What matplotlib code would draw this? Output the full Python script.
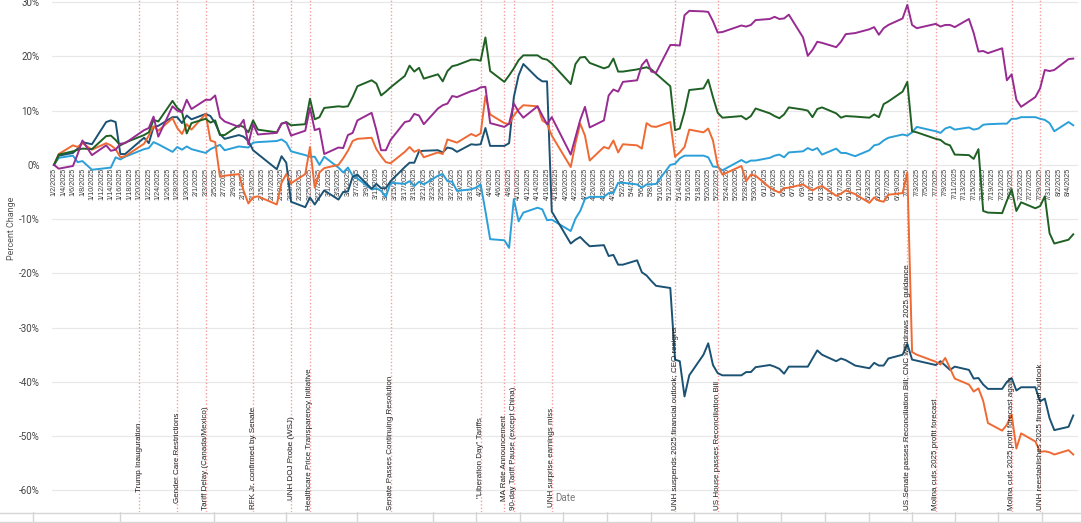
import matplotlib
matplotlib.use('Agg')
import matplotlib.pyplot as plt
import matplotlib.dates as mdates
import pandas as pd

# trading days shown on the chart
holidays = ['2025-01-09', '2025-01-20', '2025-02-17', '2025-04-18',
            '2025-05-26', '2025-06-19', '2025-07-04']
days = pd.bdate_range('2025-01-02', '2025-08-05')
days = days[~days.isin(pd.to_datetime(holidays))]

# percent change since 1/2/2025
unh = [0, 1.7, 2.2, 3.0, 4.2, 3.8, 7.9, 8.2, 7.9, 2.0, 2.0, 5.0, 4.0, 7.0, 7.2, 8.8, 8.8, 7.7, 9.1, 8.4,
       9.4, 9.0, 7.7, 5.7, 4.8, 5.5, 5.2, 4.4, 2.7, 2.0, -0.8, 1.6, 0.4, -6.8, -7.8, -6.0, -7.3, -6.0, -4.7,
       -6.4, -5.0, -4.9, -2.2, -1.8, -4.4, -3.5, -4.3, -4.3, -3.0, -0.4, 0.4, 0.4, 2.5, 2.6, 2.7, 2.3, 3.2, 3.0, 2.4, 3.8,
       3.7, 3.8, 6.8, 3.5, 3.5, 4.0, 12.5, 16.5, 18.6, 16.0, 15.4, 15.4, -8.6, -14.5, -13.8, -13.3, -14.2, -15.0, -14.8, -16.8, -16.6,
       -18.4, -18.4, -17.6, -19.8, -20.4, -21.4, -22.3, -22.7, -35.9, -36.2, -42.7, -38.8, -35.0, -32.9, -36.9, -38.4, -38.8, -38.8, -38.2, -38.2, -37.3,
       -36.9, -37.2, -37.6, -38.5, -37.2, -37.2, -37.2, -35.7, -34.2, -35.0, -36.2, -35.7, -36.0, -37.0, -37.5, -36.5, -37.0, -37.0, -35.7, -35.0,
       -33.0, -35.9, -36.1, -36.9, -36.2, -37.0, -37.8, -37.2, -37.8, -39.4, -39.3, -40.5, -41.3, -41.3, -40.0, -39.3, -41.6, -41.0, -41.0, -43.6, -43.1, -46.7,
       -48.9, -48.3, -46.2]
elv = [0, 1.9, 2.5, 2.8, 3.0, 2.9, 5.3, 5.4, 4.6, 3.6, 4.1, 5.5, 6.0, 8.3, 8.0, 11.8, 10.5, 9.8, 5.8, 7.7,
       8.5, 7.8, 8.2, 5.5, 5.5, 7.3, 7.0, 6.0, 8.2, 6.5, 6.0, 7.6, 7.9, 7.3, 7.5, 12.2, 8.4, 8.8, 10.5,
       10.8, 10.7, 10.8, 12.5, 14.5, 15.6, 15.0, 12.8, 13.5, 14.3, 16.4, 18.3, 17.2, 17.9, 15.9, 16.7, 15.4, 17.3, 18.2, 18.4, 19.4,
       19.4, 19.2, 23.5, 17.3, 15.3, 16.5, 17.8, 19.3, 20.2, 20.2, 19.6, 19.4, 18.7, 14.9, 18.6, 19.8, 19.9, 18.8, 17.8, 18.1, 19.6,
       17.2, 17.2, 17.6, 17.8, 18.0, 17.6, 16.8, 14.5, 6.4, 6.7, 9.8, 13.8, 14.1, 15.7, 12.5, 9.6, 8.7, 9.0, 8.4, 9.0, 10.4,
       9.5, 9.0, 8.6, 9.3, 10.6, 10.2, 10.0, 8.8, 10.3, 10.6, 9.5, 8.7, 9.0, 8.9, 8.7, 9.3, 8.8, 11.2, 11.7, 13.5,
       15.3, 6.2, 6.0, 4.8, 4.6, 3.9, 3.6, 1.9, 1.8, 1.1, 2.9, -8.5, -8.8, -8.9, -6.6, -4.5, -8.5, -6.9, -8.0, -7.6, -5.8, -12.6,
       -14.5, -13.8, -12.8]
cvs = [0, -0.7, -0.2, 2.0, 4.5, 1.8, 3.6, 2.6, 2.8, 3.9, 4.0, 6.4, 6.8, 8.9, 5.2, 10.8, 10.0, 9.7, 12.0, 10.3,
       12.0, 12.0, 12.8, 8.8, 8.0, 7.0, 8.3, 3.8, 7.5, 5.6, 5.9, 7.6, 7.8, 5.4, 6.3, 10.5, 6.4, 6.7, 2.0,
       3.2, 3.1, 5.5, 5.9, 8.2, 9.6, 6.4, 2.7, 2.7, 4.6, 7.9, 8.1, 9.4, 9.1, 7.5, 10.4, 11.0, 11.3, 12.7, 12.5, 13.6,
       13.8, 14.3, 14.4, 7.7, 7.0, 7.6, 11.3, 9.8, 8.7, 10.8, 9.1, 7.5, 8.8, 1.9, 5.1, 8.3, 10.7, 6.9, 8.2, 12.8, 13.9,
       13.5, 15.3, 15.6, 18.4, 19.4, 17.2, 17.0, 22.1, 22.1, 22.0, 27.6, 28.4, 28.3, 28.2, 26.5, 24.4, 24.5, 25.7, 25.5, 25.8, 26.7,
       26.9, 27.3, 26.9, 27.0, 27.7, 23.5, 20.1, 21.2, 22.7, 22.5, 21.7, 22.7, 24.1, 24.3, 25.0, 25.4, 24.0, 25.2, 25.8, 27.0,
       29.5, 25.8, 25.2, 26.0, 25.5, 25.8, 25.8, 25.4, 26.9, 24.3, 20.9, 21.0, 20.6, 21.5, 15.6, 16.7, 12.0, 10.7, 12.5, 14.1, 17.5, 17.3,
       17.5, 19.5, 19.6]
cnc = [0, 2.0, 3.6, 3.3, 4.0, 2.8, 4.0, 3.6, 2.9, 1.4, 1.6, 3.9, 5.4, 7.1, 6.3, 8.6, 6.8, 5.7, 7.5, 6.5,
       9.4, 4.5, 4.2, -2.2, -2.0, -1.7, -4.8, -7.1, -6.0, -5.8, -7.3, -3.3, -1.7, -3.4, -1.7, 3.3, -4.2, -1.4, -0.6,
       0, 1.2, 2.6, 4.4, 4.8, 5.0, 2.9, 1.6, 0.5, 0.3, 2.4, 3.3, 2.4, 2.8, 1.4, 2.3, 2.0, 4.7, 4.4, 4.1, 5.7,
       5.3, 5.8, 12.7, 9.3, 7.7, 7.5, 9.1, 10.2, 11.0, 10.8, 8.2, 7.6, 5.4, -0.4, 4.0, 7.6, 5.4, 0.8, 3.3, 3.0, 4.5,
       2.3, 3.8, 3.6, 3.0, 7.7, 7.1, 7.0, 7.9, 1.5, 2.3, 3.3, 6.5, 6.0, 6.7, 4.5, -0.1, -1.8, -0.2, -3.0, -1.8, -2.0,
       -4.2, -4.7, -5.1, -4.3, -4.2, -3.6, -4.2, -4.7, -4.2, -3.9, -5.7, -5.3, -4.7, -5.4, -7.0, -6.0, -6.6, -6.8, -5.5, -5.2,
       -1.4, -34.5, -35.0, -36.3, -36.8, -35.6, -37.5, -39.4, -40.5, -41.8, -41.2, -43.5, -47.6, -49.0, -47.9, -46.0, -52.3, -49.5, -51.0, -52.9, -52.8, -53.0,
       -53.4, -52.6, -53.4]
ci = [0, 1.3, 1.7, 0.5, 0.7, -0.9, -0.6, -0.5, 1.4, 1.0, 1.5, 2.9, 3.1, 4.2, 3.8, 2.4, 3.3, 2.8, 3.4, 2.9,
      2.2, 2.9, 3.3, 3.7, 2.7, 3.4, 3.3, 3.2, 4.1, 4.2, 4.4, 4.7, 4.1, 2.5, 1.8, 1.5, 1.5, 0, 1.5,
      -0.5, -1.4, -0.5, -2.0, -2.5, -4.5, -4.3, -4.8, -5.9, -3.3, -3.5, -3.0, -3.9, -3.1, -3.6, -2.0, -1.7, -3.0, -3.1, -4.8, -4.5,
      -4.2, -3.6, -8.5, -13.7, -13.9, -15.3, -6.3, -10.4, -8.8, -7.9, -8.2, -10.2, -10.1, -12.2, -9.9, -8.5, -6.3, -5.9, -5.9, -5.2, -5.2,
      -3.3, -3.3, -3.6, -4.2, -3.6, -3.6, -3.5, 0, 0.2, 1.2, 1.7, 1.7, 1.7, 1.4, -0.3, -0.4, -1.0, 0.9, 0.4, 0.8, 0.8,
      1.3, 1.7, 1.9, 1.4, 2.3, 2.5, 3.1, 2.7, 3.1, 1.9, 3.0, 2.2, 2.2, 1.6, 2.7, 3.6, 3.8, 4.5, 5.0, 5.6,
      5.4, 6.0, 7.0, 6.2, 5.9, 6.7, 7.0, 6.5, 6.9, 6.5, 6.7, 7.4, 7.5, 7.6, 7.6, 8.5, 8.5, 8.8, 8.8, 8.5, 8.3, 7.7,
      6.2, 7.9, 7.3]

series = [('CI', ci, '#2b9fd8'), ('UNH', unh, '#1b5273'), ('CNC', cnc, '#ef6a33'),
          ('ELV', elv, '#1f6124'), ('CVS', cvs, '#982b92')]

event_dates = ['2025-01-20', '2025-01-28', '2025-02-03', '2025-02-13', '2025-02-21',
               '2025-02-25', '2025-03-14', '2025-04-02', '2025-04-07', '2025-04-09',
               '2025-04-17', '2025-05-13', '2025-05-22', '2025-07-01', '2025-07-07',
               '2025-07-23', '2025-07-29']
event_labels = ['Trump Inauguration', 'Gender Care Restrictions',
                'Tariff Delay (Canada/Mexico)', 'RFK Jr. confirmed by Senate',
                'UNH DOJ Probe (WSJ)', 'Healthcare Price Transparency Initiative',
                'Senate Passes Continuing Resolution', '"Liberation Day" Tariffs',
                'MA Rate Announcement', '90-day Tariff Pause (except China)',
                'UNH surprise earnings miss',
                'UNH suspends 2025 financial outlook; CEO resigns',
                'US House passes Reconciliation Bill',
                'US Senate passes Reconciliation Bill; CNC withdraws 2025 guidance',
                'Molina cuts 2025 profit forecast',
                'Molina cuts 2025 profit forecast again',
                'UNH reestablishes 2025 financial outlook']

for name, vals, _ in series:
    assert len(vals) == len(days), (name, len(vals), len(days))

W, H = 1081, 523
fig = plt.figure(figsize=(W / 100, H / 100), dpi=100)
ax = fig.add_axes([52 / W, 11 / H, 1026 / W, 512 / H])

start = mdates.date2num(pd.Timestamp('2025-01-02'))
ax.set_xlim(start - 0.42, start + 216.0)
ax.set_ylim(-64.0, 30.4)

yt = list(range(-60, 31, 10))
ax.set_yticks(yt)
ax.set_yticklabels([f'{v}%' for v in yt], fontsize=7, color='#444444', family='Roboto')
ax.grid(axis='y', color='#e8e8e8', linewidth=0.9)
ax.set_axisbelow(True)
for s in ax.spines.values():
    s.set_visible(False)
ax.spines['bottom'].set_position(('data', 0))
ax.tick_params(axis='y', length=0, pad=9)

ticks = pd.date_range('2025-01-02', '2025-08-04', freq='2D')
ax.set_xticks(mdates.date2num(ticks))
ax.set_xticklabels([f'{t.month}/{t.day}/{t.year}' for t in ticks], rotation=90,
                   fontsize=5.2, color='#3a3a3a', family='Liberation Sans', va='top')
ax.tick_params(axis='x', length=0, pad=2)

for d in event_dates:
    ax.axvline(mdates.date2num(pd.Timestamp(d)), color='#f4a0a0', linestyle=(0, (1, 1.5)),
               linewidth=1.0, zorder=1)

for name, vals, col in series:
    ax.plot(days, vals, color=col, linewidth=1.4, zorder=3, label=name)

texts = []
for d, lab in zip(event_dates, event_labels):
    t = ax.text(mdates.date2num(pd.Timestamp(d)), -54.0, lab, rotation=90, ha='center',
                va='center', fontsize=5.8, color='#222222', family='Liberation Sans', zorder=5)
    texts.append(t)

# keep long labels inside the plot: pin their bottom edge near the axis bottom
fig.canvas.draw()
for t in texts:
    bb = t.get_window_extent()
    if bb.y0 < 13:
        t.set_va('bottom')
        t.set_y(-63.6)

fig.text(12 / W, 1 - 228 / H, 'Percent Change', rotation=90, ha='center', va='center',
         fontsize=6.5, color='#555555', family='Roboto')
fig.text(565 / W, 1 - 498 / H, 'Date', ha='center', va='center', fontsize=7,
         color='#777777', family='Roboto', zorder=6)

# empty strip under the plot
strip = fig.add_axes([0, 0, 1, 11 / H])
strip.set_xlim(0, W)
strip.set_ylim(0, 11)
strip.axis('off')
strip.axhline(10.5, color='#d6d6d6', linewidth=1)
strip.axhline(0.8, color='#d6d6d6', linewidth=1)
for x in [33, 120, 214, 286, 357, 433, 476, 520, 563, 607, 651, 694, 737,
          781, 825, 869, 912, 955, 998, 1042]:
    strip.axvline(x, color='#d6d6d6', linewidth=1)

fig.savefig('out.png', dpi=100)
